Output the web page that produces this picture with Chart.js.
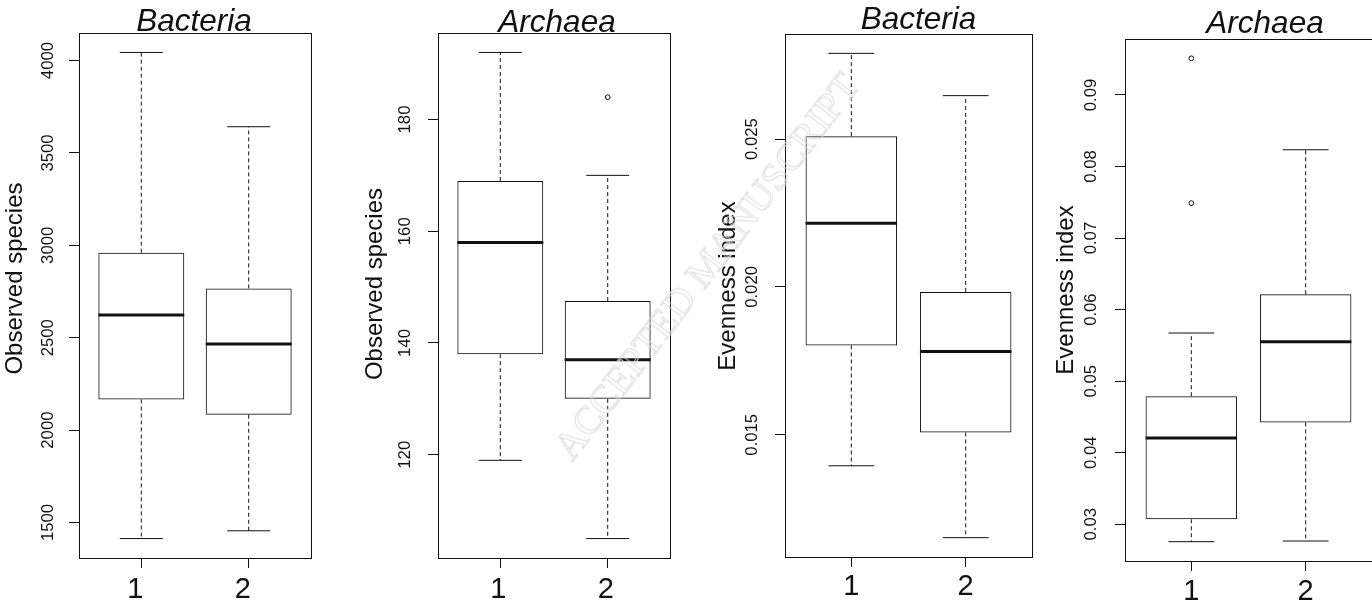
<!DOCTYPE html>
<html>
<head>
<meta charset="utf-8">
<title>Observed species and evenness index, Bacteria and Archaea</title>
<script src="https://cdn.jsdelivr.net/npm/chart.js@4.4.1/dist/chart.umd.min.js"></script>
<style>
  html, body { margin: 0; padding: 0; background: #fff; }
  #figure { position: relative; width: 1372px; height: 604px; overflow: hidden; background: #fff; }
  #figure canvas { position: absolute; top: 0; }
  #stamp {
    position: absolute; left: 706px; top: 266px; z-index: 5;
    transform: translate(-50%, -50%) rotate(-52.5deg);
    font: 40px "Liberation Serif", "Times New Roman", serif;
    color: transparent; -webkit-text-stroke: 0.9px #dadada;
    white-space: nowrap; pointer-events: none;
  }
</style>
</head>
<body>
<div id="figure"><div id="stamp">ACCEPTED MANUSCRIPT</div></div>
<script>
// ---- groups on the x axis ----
const categories = ['1', '2'];

// ---- Bacteria, observed species ----
const bacObsLow = [1413, 1455];
const bacObsQ1 = [2166, 2083];
const bacObsMedian = [2623, 2466];
const bacObsQ3 = [2960, 2767];
const bacObsHigh = [4044, 3642];
const bacObsOutliers = [[], []];
const bacObsTicks = [1500, 2000, 2500, 3000, 3500, 4000];
const bacObsTickLabels = ['1500', '2000', '2500', '3000', '3500', '4000'];

// ---- Archaea, observed species ----
const arcObsLow = [119, 105];
const arcObsQ1 = [138, 130];
const arcObsMedian = [158, 137];
const arcObsQ3 = [169, 147.5];
const arcObsHigh = [192, 170];
const arcObsOutliers = [[], [184]];
const arcObsTicks = [120, 140, 160, 180];
const arcObsTickLabels = ['120', '140', '160', '180'];

// ---- Bacteria, evenness index ----
const bacEvenLow = [0.01395, 0.01152];
const bacEvenQ1 = [0.01802, 0.01508];
const bacEvenMedian = [0.02215, 0.01782];
const bacEvenQ3 = [0.0251, 0.01983];
const bacEvenHigh = [0.0279, 0.02647];
const bacEvenOutliers = [[], []];
const bacEvenTicks = [0.015, 0.020, 0.025];
const bacEvenTickLabels = ['0.015', '0.020', '0.025'];

// ---- Archaea, evenness index ----
const arcEvenLow = [0.02757, 0.02766];
const arcEvenQ1 = [0.0307, 0.04424];
const arcEvenMedian = [0.04206, 0.05552];
const arcEvenQ3 = [0.0479, 0.06214];
const arcEvenHigh = [0.05673, 0.08234];
const arcEvenOutliers = [[0.07488, 0.09512], []];
const arcEvenTicks = [0.03, 0.04, 0.05, 0.06, 0.07, 0.08, 0.09];
const arcEvenTickLabels = ['0.03', '0.04', '0.05', '0.06', '0.07', '0.08', '0.09'];

const panels = [
  { title: 'Bacteria', yLabel: 'Observed species', low: bacObsLow, q1: bacObsQ1, median: bacObsMedian, q3: bacObsQ3, high: bacObsHigh, outliers: bacObsOutliers, ticks: bacObsTicks, tickLabels: bacObsTickLabels },
  { title: 'Archaea', yLabel: 'Observed species', low: arcObsLow, q1: arcObsQ1, median: arcObsMedian, q3: arcObsQ3, high: arcObsHigh, outliers: arcObsOutliers, ticks: arcObsTicks, tickLabels: arcObsTickLabels },
  { title: 'Bacteria', yLabel: 'Evenness index', low: bacEvenLow, q1: bacEvenQ1, median: bacEvenMedian, q3: bacEvenQ3, high: bacEvenHigh, outliers: bacEvenOutliers, ticks: bacEvenTicks, tickLabels: bacEvenTickLabels },
  { title: 'Archaea', yLabel: 'Evenness index', low: arcEvenLow, q1: arcEvenQ1, median: arcEvenMedian, q3: arcEvenQ3, high: arcEvenHigh, outliers: arcEvenOutliers, ticks: arcEvenTicks, tickLabels: arcEvenTickLabels }
];

// ---- page placement of each panel (pixels) ----
const frames = [
  { left: 0,    width: 340, plot: { l: 79,   r: 311,  t: 33, b: 558 }, title: { x: 194,   y: 31 },   yTitle: { x: 15,   y: 278.5 }, tickPad: 2.1, xPad: 5,   xShift: -6 },
  { left: 352,  width: 338, plot: { l: 438,  r: 670,  t: 33, b: 558 }, title: { x: 557,   y: 32 },   yTitle: { x: 375,  y: 284 },   tickPad: 8.6, xPad: 5,   xShift: -2 },
  { left: 700,  width: 350, plot: { l: 785,  r: 1032, t: 34, b: 557 }, title: { x: 918.5, y: 28.5 }, yTitle: { x: 728,  y: 286 },   tickPad: 2.1, xPad: 2.5, xShift: 0 },
  { left: 1048, width: 340, plot: { l: 1125, r: 1372, t: 39, b: 561 }, title: { x: 1265,  y: 32.7 }, yTitle: { x: 1066, y: 290 },   tickPad: 7.2, xPad: 3.5, xShift: 0 }
];

const FONT = "'Liberation Sans', Arial, Helvetica, sans-serif";
const INK = '#111';
const BOX_WIDTH = 0.8;   // box width in x units
const STAPLE = 0.5;      // whisker cap width relative to the box
const PAGE_H = 604;

Chart.defaults.font.family = FONT;

// frame around the plotting region
const framePlugin = {
  id: 'frame',
  beforeDatasetsDraw(chart) {
    const { ctx, chartArea: a } = chart;
    ctx.save();
    ctx.strokeStyle = INK;
    ctx.lineWidth = 1;
    ctx.strokeRect(a.left + 0.5, a.top + 0.5, a.right - a.left, a.bottom - a.top);
    ctx.restore();
  }
};

// panel heading and rotated y axis title
const panelTextPlugin = {
  id: 'panelText',
  afterDraw(chart, args, opts) {
    const ctx = chart.ctx;
    ctx.save();
    ctx.fillStyle = INK;
    ctx.font = 'italic 31.5px ' + FONT;
    ctx.textAlign = 'center';
    ctx.textBaseline = 'alphabetic';
    ctx.fillText(opts.title, opts.titleX, opts.titleY);
    ctx.translate(opts.yTitleX, opts.yTitleY);
    ctx.rotate(-Math.PI / 2);
    ctx.font = '24px ' + FONT;
    ctx.textBaseline = 'middle';
    ctx.fillText(opts.yLabel, 0, 0);
    ctx.restore();
  }
};

function boxDatasets(p) {
  const sets = [{
    type: 'bar',
    data: categories.map((c, i) => ({ x: i + 1, y: [p.q1[i], p.q3[i]] })),
    backgroundColor: 'rgba(0,0,0,0)',
    borderColor: INK,
    borderWidth: 1,
    borderSkipped: false,
    barPercentage: BOX_WIDTH,
    categoryPercentage: 1,
    order: 2
  }];
  const seg = (pts, extra) => Object.assign({
    type: 'line', data: pts, showLine: true, borderColor: INK, borderWidth: 1,
    pointRadius: 0, pointHoverRadius: 0, fill: false, tension: 0,
    borderCapStyle: 'butt', order: 1
  }, extra || {});
  categories.forEach((c, i) => {
    const x = i + 1;
    const half = BOX_WIDTH / 2;
    const cap = half * STAPLE;
    sets.push(seg([{ x, y: p.q3[i] }, { x, y: p.high[i] }], { borderDash: [4, 3] }));
    sets.push(seg([{ x, y: p.q1[i] }, { x, y: p.low[i] }], { borderDash: [4, 3] }));
    sets.push(seg([{ x: x - cap, y: p.high[i] }, { x: x + cap, y: p.high[i] }]));
    sets.push(seg([{ x: x - cap, y: p.low[i] }, { x: x + cap, y: p.low[i] }]));
    sets.push(seg([{ x: x - half, y: p.median[i] }, { x: x + half, y: p.median[i] }], { borderWidth: 3 }));
  });
  const pts = [];
  p.outliers.forEach((vals, i) => vals.forEach(v => pts.push({ x: i + 1, y: v })));
  sets.push({
    type: 'scatter', data: pts, showLine: false, pointStyle: 'circle',
    pointRadius: 2.4, pointHoverRadius: 2.4, borderWidth: 1,
    borderColor: INK, backgroundColor: 'rgba(0,0,0,0)', order: 0
  });
  return sets;
}

const figure = document.getElementById('figure');

panels.forEach((p, k) => {
  const f = frames[k];
  const canvas = document.createElement('canvas');
  canvas.width = f.width;
  canvas.height = PAGE_H;
  canvas.style.left = f.left + 'px';
  canvas.style.width = f.width + 'px';
  canvas.style.height = PAGE_H + 'px';
  figure.insertBefore(canvas, figure.firstChild);

  // value range padded by 4% on each side
  const all = p.low.concat(p.high, ...p.outliers);
  const lo = Math.min(...all), hi = Math.max(...all);
  const pad = 0.04 * (hi - lo);
  const n = categories.length;

  const tickGrid = {
    display: true, drawOnChartArea: false, drawTicks: true,
    tickLength: 10, tickColor: INK, tickWidth: 1, offset: false
  };

  new Chart(canvas, {
    type: 'scatter',
    data: { datasets: boxDatasets(p) },
    options: {
      responsive: false,
      animation: false,
      devicePixelRatio: 1,
      events: [],
      layout: { padding: { left: 0, top: f.plot.t, right: f.left + f.width - f.plot.r, bottom: 0 } },
      plugins: {
        legend: { display: false },
        tooltip: { enabled: false },
        title: { display: false },
        panelText: {
          title: p.title, yLabel: p.yLabel,
          titleX: f.title.x - f.left, titleY: f.title.y,
          yTitleX: f.yTitle.x - f.left, yTitleY: f.yTitle.y
        }
      },
      scales: {
        x: {
          type: 'linear', bounds: 'data', offset: false,
          min: 0.5 - 0.04 * n, max: n + 0.5 + 0.04 * n,
          afterBuildTicks: s => { s.ticks = categories.map((c, i) => ({ value: i + 1 })); },
          afterFit: s => { s.height = PAGE_H - f.plot.b; },
          grid: tickGrid,
          border: { display: false },
          ticks: {
            autoSkip: false, minRotation: 0, maxRotation: 0,
            padding: f.xPad, labelOffset: f.xShift, color: INK,
            font: { family: FONT, size: 29, lineHeight: 1.2 },
            callback: (v, i) => categories[i]
          }
        },
        y: {
          type: 'linear', bounds: 'data',
          min: lo - pad, max: hi + pad,
          afterBuildTicks: s => { s.ticks = p.ticks.map(v => ({ value: v })); },
          afterFit: s => { s.width = f.plot.l - f.left; },
          grid: tickGrid,
          border: { display: false },
          ticks: {
            autoSkip: false, minRotation: 90, maxRotation: 90, crossAlign: 'center',
            padding: f.tickPad, color: INK,
            font: { family: FONT, size: 16.7, lineHeight: 1.2 },
            callback: (v, i) => p.tickLabels[i]
          }
        }
      }
    },
    plugins: [framePlugin, panelTextPlugin]
  });
});
</script>
</body>
</html>
